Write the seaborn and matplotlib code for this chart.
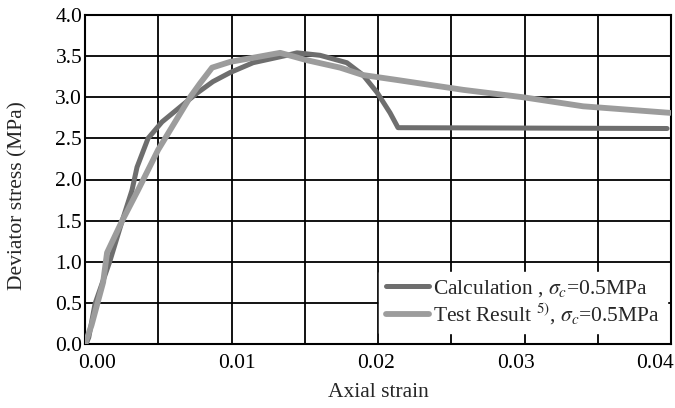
import numpy as np
import pandas as pd
import matplotlib
matplotlib.use("Agg")
import matplotlib.pyplot as plt
from matplotlib.ticker import FixedLocator
import seaborn as sns

# Calculated stress-strain curve
calc_strain = [-0.0008, -0.0006, -0.00015, 0.0009, 0.0018, 0.0025, 0.00286, 0.00365,
               0.00465, 0.00594, 0.00716, 0.0083, 0.00953, 0.01118, 0.0136, 0.01433,
               0.01598, 0.0179, 0.01906, 0.02006, 0.021, 0.02157, 0.04086]
calc_stress = [0.0, 0.08, 0.49, 1.0, 1.5, 1.87, 2.15, 2.5,
               2.7, 2.88, 3.05, 3.19, 3.3, 3.42, 3.51, 3.54,
               3.51, 3.42, 3.27, 3.06, 2.81, 2.63, 2.62]

# Measured stress-strain curve
test_strain = [-0.00087, -0.0004, 0.00043, 0.00071, 0.0018, 0.00293, 0.00437, 0.00523,
               0.00666, 0.00738, 0.00824, 0.00953, 0.01118, 0.01312, 0.01505, 0.01742,
               0.01906, 0.0215, 0.02624, 0.03054, 0.03484, 0.04108]
test_stress = [0.0, 0.23, 0.75, 1.11, 1.5, 1.87, 2.36, 2.6,
               3.0, 3.17, 3.36, 3.43, 3.48, 3.54, 3.45, 3.36,
               3.27, 3.21, 3.09, 3.0, 2.89, 2.81]

x_ticks = [0.00, 0.01, 0.02, 0.03, 0.04]
x_tick_labels = ["0.00", "0.01", "0.02", "0.03", "0.04"]
y_ticks = [0.0, 0.5, 1.0, 1.5, 2.0, 2.5, 3.0, 3.5, 4.0]

calc_label = r"Calculation , $\sigma_c$=0.5MPa"
test_label = r"Test Result $^{5)}$, $\sigma_c$=0.5MPa"

FS = 15.5

sns.set_theme(style="white")
plt.rcParams["font.family"] = ["Liberation Serif", "DejaVu Serif"]
plt.rcParams["mathtext.fontset"] = "stix"

fig = plt.figure(figsize=(6.75, 4.08), dpi=100)
ax = fig.add_axes([85 / 675, 1 - 344 / 408, (671 - 85) / 675, (344 - 15) / 408])

calc_df = pd.DataFrame({"strain": calc_strain, "stress": calc_stress})
test_df = pd.DataFrame({"strain": test_strain, "stress": test_stress})

x_min, x_max = -0.00087, 0.04114
ax.set_xlim(x_min, x_max)
ax.set_ylim(0.0, 4.0)

# grid: 8 equal vertical divisions, horizontal lines at every 0.5
ax.xaxis.set_minor_locator(FixedLocator(np.linspace(x_min, x_max, 9)))
ax.set_xticks(x_ticks)
ax.set_xticklabels(x_tick_labels)
ax.set_yticks(y_ticks)
ax.set_yticklabels([f"{v:.1f}" for v in y_ticks])
ax.grid(False)
ax.grid(True, which="minor", axis="x", color="black", linewidth=1.3)
ax.grid(True, which="major", axis="y", color="black", linewidth=1.3)
ax.tick_params(which="both", length=0, labelsize=FS, colors="black")
ax.tick_params(axis="x", pad=7)
ax.tick_params(axis="y", pad=2)
for s in ax.spines.values():
    s.set_color("black")
    s.set_linewidth(1.5)

sns.lineplot(data=calc_df, x="strain", y="stress", sort=False, ax=ax,
             color="#6e6e6e", linewidth=3.6, label=calc_label, zorder=3)
sns.lineplot(data=test_df, x="strain", y="stress", sort=False, ax=ax,
             color="#9c9c9c", linewidth=4.2, label=test_label, zorder=4)

ax.set_xlabel("Axial strain", fontsize=FS)
ax.set_ylabel("Deviator stress (MPa)", fontsize=FS)
ax.xaxis.set_label_coords(0.5, -0.118)
ax.yaxis.set_label_coords(-0.099, 0.45)

leg = ax.legend(loc="lower right", bbox_to_anchor=(1.0, 0.02), fontsize=FS,
                frameon=True, fancybox=False, framealpha=1.0, edgecolor="white",
                facecolor="white", handlelength=2.0, handletextpad=0.2,
                borderpad=0.3, labelspacing=0.1, borderaxespad=0.2)
leg.set_zorder(5)

fig.savefig("out.png", dpi=100)
